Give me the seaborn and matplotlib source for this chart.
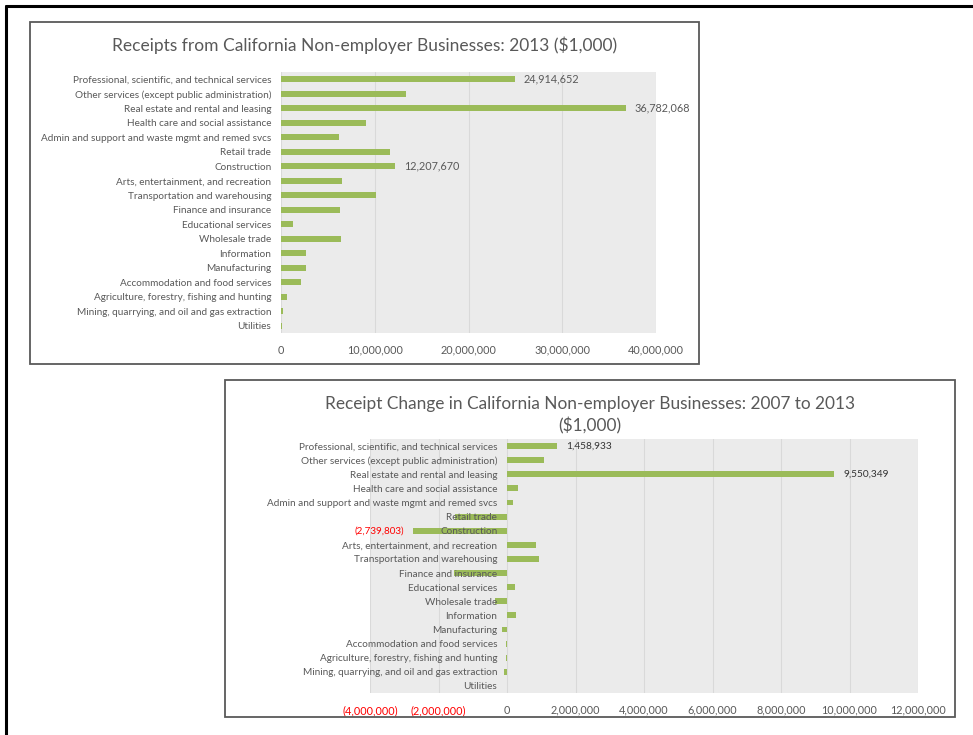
import matplotlib
matplotlib.use("Agg")
import matplotlib.pyplot as plt
from matplotlib.patches import Rectangle
from matplotlib.lines import Line2D
import seaborn as sns
import pandas as pd

# ---- data ($1,000) ----
industries = [
    "Professional, scientific, and technical services",
    "Other services (except public administration)",
    "Real estate and rental and leasing",
    "Health care and social assistance",
    "Admin and support and waste mgmt and remed svcs",
    "Retail trade",
    "Construction",
    "Arts, entertainment, and recreation",
    "Transportation and warehousing",
    "Finance and insurance",
    "Educational services",
    "Wholesale trade",
    "Information",
    "Manufacturing",
    "Accommodation and food services",
    "Agriculture, forestry, fishing and hunting",
    "Mining, quarrying, and oil and gas extraction",
    "Utilities",
]
receipts_2013 = [
    24914652, 13310000, 36782068, 9020000, 6170000, 11610000, 12207670,
    6460000, 10120000, 6250000, 1310000, 6420000, 2620000, 2690000,
    2090000, 680000, 250000, 80000,
]
receipt_change = [
    1458933, 1090000, 9550349, 330000, 165000, -1510000, -2739803,
    850000, 940000, -1560000, 240000, -340000, 250000, -150000,
    -30000, -20000, -90000, 5000,
]
ticks_2013 = [0, 10000000, 20000000, 30000000, 40000000]
ticks_change = [-4000000, -2000000, 0, 2000000, 4000000, 6000000,
                8000000, 10000000, 12000000]
labelled_2013 = [industries[0], industries[2], industries[6]]
labelled_change = [industries[0], industries[2], industries[6]]

title_2013 = "Receipts from California Non-employer Businesses: 2013 ($1,000)"
title_change_1 = "Receipt Change in California Non-employer Businesses: 2007 to 2013"
title_change_2 = "($1,000)"

# ---- style ----
sns.set_style("white")
plt.rcParams["font.family"] = ["Lato", "DejaVu Sans"]

BAR = "#9BBB59"
PLOT_BG = "#EBEBEB"
GRID = "#D9D9D9"
TEXT = "#595959"
NEG = "#FF0000"

W, H = 973, 735
fig = plt.figure(figsize=(W / 100, H / 100), dpi=100)
fig.patch.set_facecolor("white")


def px_axes(left, top, right, bottom):
    return fig.add_axes([left / W, 1 - bottom / H, (right - left) / W, (bottom - top) / H])


def fmt(v):
    return f"({abs(v):,.0f})" if v < 0 else f"{v:,.0f}"


def style_axes(ax, ticks, xlim):
    ax.set_facecolor(PLOT_BG)
    ax.set_xlim(*xlim)
    ax.set_ylim(len(industries) - 0.5, -0.5)
    ax.set_xticks(ticks)
    ax.set_xticklabels([fmt(t) for t in ticks])
    for lab, t in zip(ax.get_xticklabels(), ticks):
        lab.set_color(NEG if t < 0 else TEXT)
    ax.tick_params(axis="x", length=0, pad=8.5, labelsize=7.8)
    ax.tick_params(axis="y", length=0, pad=7, labelsize=7.2, labelcolor=TEXT)
    ax.set_xlabel("")
    ax.set_ylabel("")
    for s in ax.spines.values():
        s.set_visible(False)
    ax.grid(axis="x", color=GRID, lw=0.8)
    ax.grid(axis="y", visible=False)
    ax.set_axisbelow(True)
    ax.yaxis.set_zorder(3)


# ---- chart 1: receipts 2013 ----
df1 = pd.DataFrame({"industry": industries, "receipts": receipts_2013})
ax1 = px_axes(281, 72, 656, 333)
sns.barplot(data=df1, x="receipts", y="industry", orient="h", color=BAR,
            saturation=1, width=0.42, linewidth=0, ax=ax1)
style_axes(ax1, ticks_2013, (0, 40000000))
for i, (name, v) in enumerate(zip(industries, receipts_2013)):
    if name in labelled_2013:
        ax1.annotate(fmt(v), xy=(v, i), xytext=(9, 0), textcoords="offset pixels",
                     ha="left", va="center", fontsize=7.8, color=TEXT)

# ---- chart 2: change 2007-2013 ----
df2 = pd.DataFrame({"industry": industries, "change": receipt_change})
ax2 = px_axes(370, 439, 918, 693)
sns.barplot(data=df2, x="change", y="industry", orient="h", color=BAR,
            saturation=1, width=0.42, linewidth=0, ax=ax2)
style_axes(ax2, ticks_change, (-4000000, 12000000))
ax2.spines["left"].set_position(("data", 0))
for i, (name, v) in enumerate(zip(industries, receipt_change)):
    if name in labelled_change:
        if v < 0:
            ax2.annotate(fmt(v), xy=(v, i), xytext=(-9, 0), textcoords="offset pixels",
                         ha="right", va="center", fontsize=7.1, color=NEG)
        else:
            ax2.annotate(fmt(v), xy=(v, i), xytext=(9, 0), textcoords="offset pixels",
                         ha="left", va="center", fontsize=7.3, color="#333333")

# ---- titles ----
fig.text(364.5 / W, 1 - 45 / H, title_2013, ha="center", va="center",
         fontsize=12.5, color=TEXT)
fig.text(590 / W, 1 - 404 / H, title_change_1, ha="center", va="center",
         fontsize=12.4, color=TEXT)
fig.text(590 / W, 1 - 426 / H, title_change_2, ha="center", va="center",
         fontsize=12.4, color=TEXT)

# ---- chart frames and page border ----
fig.add_artist(Rectangle((30 / W, 1 - 364 / H), 669 / W, 342 / H, transform=fig.transFigure,
                         fill=False, edgecolor="#595959", lw=1.3))
fig.add_artist(Rectangle((225 / W, 1 - 717 / H), 730 / W, 337 / H, transform=fig.transFigure,
                         fill=False, edgecolor="#595959", lw=1.3))
fig.add_artist(Line2D([6 / W, 6 / W], [0, 1 - 6 / H], transform=fig.transFigure,
                      color="black", lw=2.2))
fig.add_artist(Line2D([6 / W, 1], [1 - 6 / H, 1 - 6 / H], transform=fig.transFigure,
                      color="black", lw=2.2))

fig.savefig("out.png", dpi=100)
